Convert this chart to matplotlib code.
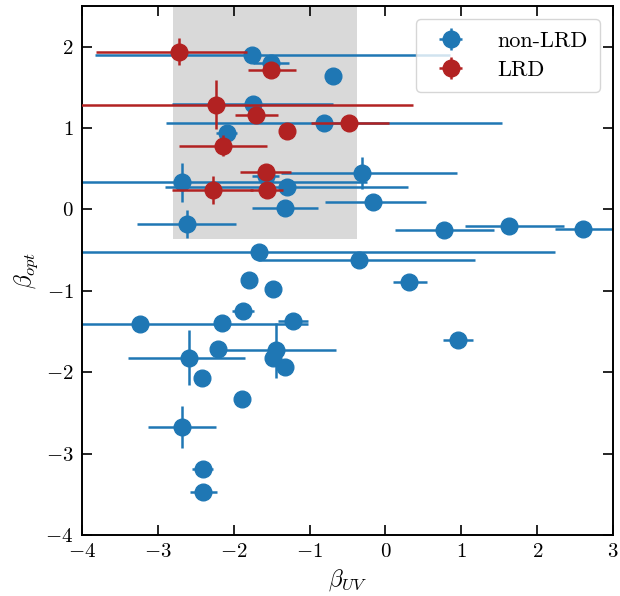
import matplotlib
matplotlib.use("Agg")
import matplotlib.pyplot as plt
import numpy as np

plt.rcParams["font.family"] = "serif"
plt.rcParams["font.serif"] = ["cmr10", "DejaVu Serif"]
plt.rcParams["mathtext.fontset"] = "cm"
plt.rcParams["axes.formatter.use_mathtext"] = True
plt.rcParams["axes.unicode_minus"] = True

# non-LRD sample: beta_UV, beta_opt and their (lower, upper) uncertainties
non_lrd_buv = [-1.755, -1.51, -0.695, -1.75, -0.806, -2.093, -2.686, -0.313, -1.58,
               -1.30, -1.324, -0.168, -2.62, 0.776, 1.629, 2.608, -1.663, -0.345,
               0.315, -1.80, -1.478, -1.882, -3.235, -2.15, -1.215, -2.586, -2.203,
               -1.447, -1.478, -1.324, -2.418, -1.895, -2.678, -2.409, -2.40, 0.952]
non_lrd_bopt = [1.898, 1.795, 1.644, 1.30, 1.064, 0.936, 0.335, 0.446, 0.405,
                0.274, 0.021, 0.09, -0.176, -0.258, -0.209, -0.245, -0.524, -0.626,
                -0.892, -0.863, -0.973, -1.25, -1.403, -1.395, -1.374, -1.82, -1.72,
                -1.73, -1.83, -1.94, -2.07, -2.33, -2.67, -3.19, -3.47, -1.607]
non_lrd_buv_lo = [2.07, 0.24, 0.10, 1.06, 2.08, 0.14, 2.44, 1.06, 0.18,
                  1.60, 0.43, 0.63, 0.65, 0.65, 0.58, 0.38, 3.90, 1.34,
                  0.21, 0.0, 0.0, 0.145, 2.22, 0.0, 0.20, 0.80, 0.0,
                  0.78, 0.0, 0.0, 0.0, 0.0, 0.45, 0.14, 0.18, 0.20]
non_lrd_buv_hi = [2.60, 0.24, 0.10, 1.06, 2.34, 0.14, 2.44, 1.26, 0.18,
                  1.60, 0.44, 0.70, 0.65, 0.65, 0.72, 0.45, 3.90, 1.52,
                  0.23, 0.0, 0.0, 0.145, 2.22, 0.0, 0.20, 0.74, 0.0,
                  0.79, 0.0, 0.0, 0.0, 0.0, 0.45, 0.14, 0.18, 0.20]
non_lrd_bopt_err = [0.0, 0.0, 0.0, 0.0, 0.0, 0.0, 0.24, 0.20, 0.0,
                    0.0, 0.0, 0.0, 0.17, 0.0, 0.0, 0.0, 0.0, 0.0,
                    0.0, 0.0, 0.0, 0.0, 0.0, 0.0, 0.0, 0.34, 0.0,
                    0.34, 0.0, 0.0, 0.0, 0.0, 0.26, 0.0, 0.0, 0.0]

# LRD sample
lrd_buv = [-2.72, -1.51, -2.234, -1.70, -0.476, -1.294, -2.137, -1.58, -2.277, -1.565]
lrd_bopt = [1.94, 1.71, 1.285, 1.16, 1.064, 0.96, 0.785, 0.458, 0.242, 0.242]
lrd_buv_lo = [1.09, 0.30, 2.00, 0.28, 0.50, 0.0, 0.58, 0.33, 0.53, 0.22]
lrd_buv_hi = [0.89, 0.33, 2.60, 0.28, 0.52, 0.0, 0.58, 0.33, 0.53, 0.22]
lrd_bopt_err = [0.17, 0.0, 0.30, 0.0, 0.0, 0.0, 0.13, 0.0, 0.17, 0.0]

# Highlighted selection window
box_buv = (-2.8, -0.37)
box_bopt_min = -0.36

fig = plt.figure(figsize=(6.2, 5.96), dpi=100)
ax = fig.add_axes([0.132, 0.1023, 0.857, 0.8877])

ax.fill_between(box_buv, box_bopt_min, 2.5, color="#d9d9d9", lw=0, zorder=0)

ax.errorbar(non_lrd_buv, non_lrd_bopt,
            xerr=[non_lrd_buv_lo, non_lrd_buv_hi], yerr=non_lrd_bopt_err,
            fmt="o", color="#1f77b4", ms=12, elinewidth=1.8, capsize=0,
            label="non-LRD", zorder=2)
ax.errorbar(lrd_buv, lrd_bopt,
            xerr=[lrd_buv_lo, lrd_buv_hi], yerr=lrd_bopt_err,
            fmt="o", color="#b22222", ms=12, elinewidth=1.8, capsize=0,
            label="LRD", zorder=3)

ax.set_xlim(-4, 3)
ax.set_ylim(-4, 2.5)
ax.set_xticks(np.arange(-4, 4, 1))
ax.set_yticks(np.arange(-4, 3, 1))
ax.tick_params(direction="in", top=True, right=True, length=7, width=1.2,
               labelsize=15, pad=6)
for s in ax.spines.values():
    s.set_linewidth(1.4)

ax.set_xlabel(r"$\beta_{UV}$", fontsize=17)
ax.set_ylabel(r"$\beta_{opt}$", fontsize=17)

leg = ax.legend(loc="upper right", fontsize=16, handletextpad=1.1,
                borderpad=0.55, labelspacing=0.4, handlelength=2.0,
                borderaxespad=0.6)

fig.savefig("out.png", dpi=100)
